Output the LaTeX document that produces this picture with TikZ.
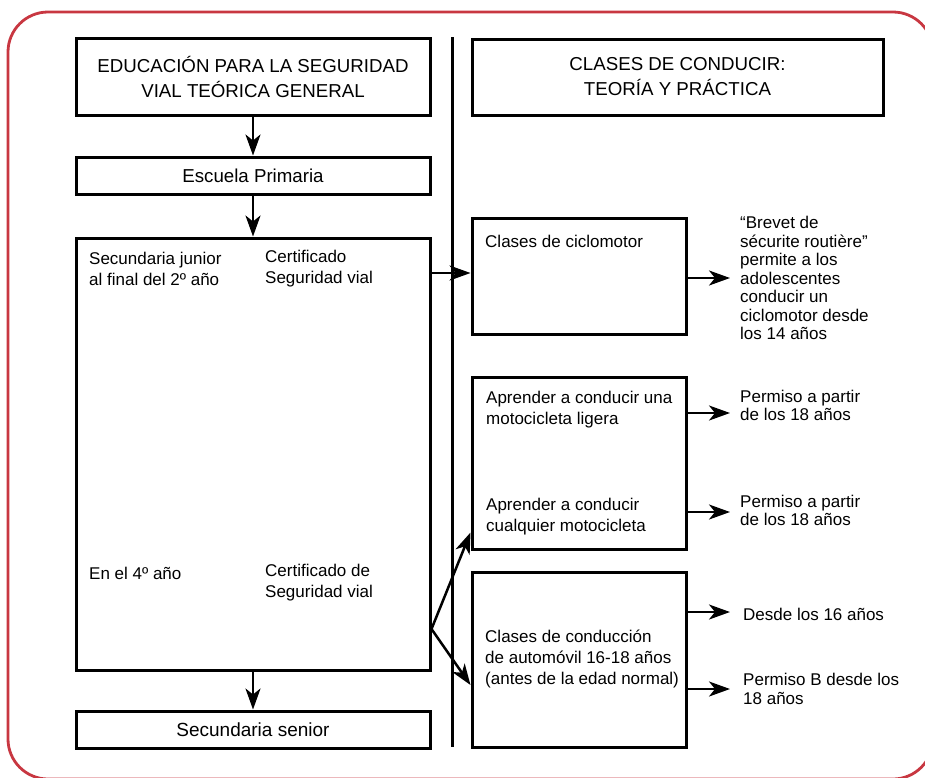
\documentclass[tikz,border=0pt]{standalone}
\usepackage{fontspec}
\setmainfont{Liberation Sans}
\usetikzlibrary{arrows.meta,calc}
\definecolor{framered}{RGB}{200,55,65}
\begin{document}
\begin{tikzpicture}[x=1pt,y=-1pt,
  box/.style={draw,line width=3pt,rectangle,inner sep=0pt},
  arr/.style={line width=2.5pt,-{Stealth[length=21pt,width=15pt,inset=6pt]}},
  head/.style={font=\fontsize{18.7}{25}\selectfont,align=center},
  btxt/.style={font=\fontsize{17}{21}\selectfont,align=left,anchor=west,inner sep=0pt},
  rtxt/.style={font=\fontsize{17}{18.5}\selectfont,align=left,anchor=west,inner sep=0pt},
  divider/.style={line width=3pt}
]
\useasboundingbox (0,0) rectangle (925,777);
\clip (0,0) rectangle (925,777);
\draw[framered,line width=2.8pt,rounded corners=40pt] (8,12) rectangle (933,779);

% left column
\node[box,minimum width=354pt,minimum height=77pt,head] (A) at (253,76.5) {EDUCACIÓN PARA LA SEGURIDAD\\VIAL TEÓRICA GENERAL};
\node[box,minimum width=354pt,minimum height=37pt,font=\fontsize{18.7}{22}\selectfont] (B) at (253,175.5) {Escuela Primaria};
\node[box,minimum width=354pt,minimum height=432pt] (C) at (253,454) {};
\node[box,minimum width=354pt,minimum height=37pt,font=\fontsize{19}{22}\selectfont] (D) at (253,729.5) {Secundaria senior};

% divider
\coordinate (vt) at (452,37);
\coordinate (vb) at (452,747);
\draw[divider] (vt) -- (vb);

% right column
\node[box,minimum width=411pt,minimum height=76pt,head] (E) at (677.5,77) {CLASES DE CONDUCIR:\\TEORÍA Y PRÁCTICA};
\node[box,minimum width=214pt,minimum height=116pt] (F) at (579,276) {};
\node[box,minimum width=214pt,minimum height=172pt] (G) at (579,463) {};
\node[box,minimum width=214pt,minimum height=175pt] (H) at (579,659.5) {};

% texts in boxes
\node[btxt] (t1) at (89,268.5) {Secundaria junior\\al final del 2º año};
\node[btxt] (t2) at (265,268.5) {Certificado\\Seguridad vial};
\node[btxt] (t3) at (89,573) {En el 4º año};
\node[btxt] (t4) at (265,583) {Certificado de\\Seguridad vial};
\node[btxt] (t5) at (485,241) {Clases de ciclomotor};
\node[btxt] (t6) at (486,410) {Aprender a conducir una\\motocicleta ligera};
\node[btxt] (t7) at (486,516.5) {Aprender a conducir\\cualquier motocicleta};
\node[btxt] (t8) at (485,659) {Clases de conducción\\de automóvil 16-18 años\\(antes de la edad normal)};

% right texts
\node[rtxt] (r1) at (740,278) {“Brevet de\\sécurite routière”\\permite a los\\adolescentes\\conducir un\\ciclomotor desde\\los 14 años};
\node[rtxt] (r2) at (740,405.5) {Permiso a partir\\de los 18 años};
\node[rtxt] (r3) at (740,510.5) {Permiso a partir\\de los 18 años};
\node[rtxt] (r4) at (743,614) {Desde los 16 años};
\node[rtxt] (r5) at (743,689) {Permiso B desde los\\18 años};

% arrows
\draw[arr] (A) -- (B);
\draw[arr] (B) -- (C);
\draw[arr] (C) -- (D);
\coordinate (cf) at ([yshift=3pt]F.west);
\draw[arr] (C.east |- cf) -- (cf);
\coordinate (dv) at ([yshift=-175pt]C.east);
\draw[arr] (dv) -- ([yshift=18pt]G.south west);
\draw[arr] (dv) -- ([yshift=-25.5pt]H.west);

\draw[arr,shorten >=10pt] (F.east |- r1.west) -- (r1.west);
\coordinate (g1) at ([yshift=50pt]G.east);
\draw[arr,shorten >=10pt] (g1) -- (g1 -| r2.west);
\coordinate (g2) at ([yshift=-49pt]G.east);
\draw[arr,shorten >=10pt] (g2) -- (g2 -| r3.west);
\coordinate (h1) at ([yshift=47.5pt]H.east);
\draw[arr,shorten >=13pt] (h1) -- (h1 -| r4.west);
\coordinate (h2) at ([yshift=-29.5pt]H.east);
\draw[arr,shorten >=13pt] (h2) -- (h2 -| r5.west);
\end{tikzpicture}
\end{document}
